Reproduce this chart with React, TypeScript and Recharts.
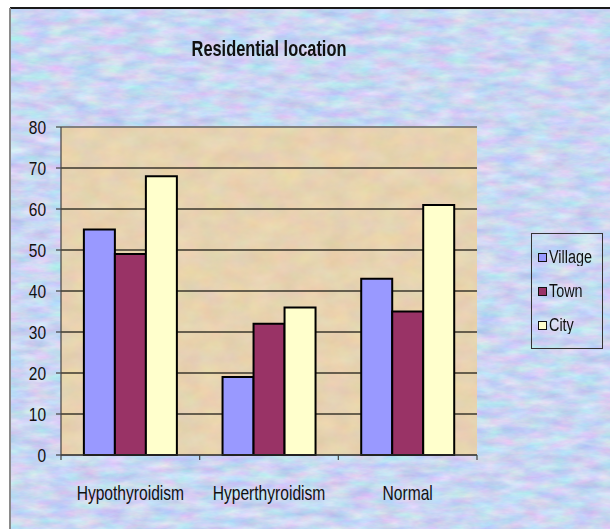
import { Bar, BarChart, CartesianGrid, ReferenceLine, XAxis, YAxis } from 'recharts'

const categories = ['Hypothyroidism', 'Hyperthyroidism', 'Normal']
const village = [55, 19, 43]
const town = [49, 32, 35]
const city = [68, 36, 61]
const yTicks = [0, 10, 20, 30, 40, 50, 60, 70, 80]

const series = [
  { key: 'village', name: 'Village', color: '#9999FF' },
  { key: 'town', name: 'Town', color: '#993366' },
  { key: 'city', name: 'City', color: '#FFFFCC' },
]

const data = categories.map((category, i) => ({
  category,
  village: village[i],
  town: town[i],
  city: city[i],
}))

const WIDTH = 610
const HEIGHT = 529
const MARGIN = { top: 127, right: 133, bottom: 44, left: 21 }
const Y_AXIS_WIDTH = 40
const PLOT_W = WIDTH - MARGIN.left - MARGIN.right - Y_AXIS_WIDTH
const FONT = "'Liberation Sans', Arial, sans-serif"
// Arial Narrow is not available, so text is squeezed horizontally instead
const SQUEEZE = 0.8

/** Category label centred in its band, with tick marks on the band edges. */
function CategoryTick(props: any) {
  const { x, y, payload, index } = props
  const half = PLOT_W / categories.length / 2
  const last = index === categories.length - 1
  return (
    <g>
      <line x1={x - half} x2={x - half} y1={y - 6} y2={y - 1} stroke="#444" strokeWidth={1.2} />
      {last && <line x1={x + half} x2={x + half} y1={y - 6} y2={y - 1} stroke="#444" strokeWidth={1.2} />}
      <text
        transform={`translate(${x},${y + 39}) scale(${SQUEEZE},1.08)`}
        textAnchor="middle"
        fontFamily={FONT}
        fontSize={19.5}
        fill="#111"
      >
        {payload.value}
      </text>
    </g>
  )
}

function ValueTick(props: any) {
  const { x, y, payload } = props
  return (
    <text
      transform={`translate(${x},${y + 6.5}) scale(0.86,1.05)`}
      textAnchor="end"
      fontFamily={FONT}
      fontSize={18}
      fill="#111"
    >
      {payload.value}
    </text>
  )
}

function LegendBox() {
  return (
    <div
      style={{
        position: 'absolute',
        left: 531,
        top: 233,
        border: '1.5px solid #333',
        width: 72,
        height: 116,
        boxSizing: 'border-box',
        display: 'flex',
        flexDirection: 'column',
        justifyContent: 'space-around',
        padding: '6px 0 6px 6px',
        fontFamily: FONT,
        fontSize: 16,
        color: '#111',
      }}
    >
      {series.map((s) => (
        <div key={s.key} style={{ display: 'flex', alignItems: 'center', lineHeight: '18px' }}>
          <span
            style={{
              width: 7,
              height: 7,
              background: s.color,
              border: '1.3px solid #111',
              marginRight: 2,
              display: 'inline-block',
            }}
          />
          <span style={{ display: 'inline-block', transform: 'scale(0.9,1.1)', transformOrigin: 'left center' }}>
            {s.name}
          </span>
        </div>
      ))}
    </div>
  )
}

export default function App() {
  return (
    <div style={{ position: 'absolute', left: 0, top: 0, width: WIDTH, height: HEIGHT, background: '#fff', overflow: 'hidden' }}>
      <svg width={WIDTH} height={HEIGHT} style={{ position: 'absolute', left: 0, top: 0 }}>
        <defs>
          <filter id="pastelNoise" x="0" y="0" width="100%" height="100%" colorInterpolationFilters="sRGB">
            <feTurbulence type="fractalNoise" baseFrequency="0.04 0.11" numOctaves={4} seed={4} />
            <feColorMatrix
              type="matrix"
              values="0.32 0 0 0 0.63  0 0.26 0 0 0.71  0 0 0.12 0 0.89  0 0 0 0 1"
            />
            <feGaussianBlur stdDeviation={0.6} />
          </filter>
          <filter id="paperNoise" x="0" y="0" width="100%" height="100%" colorInterpolationFilters="sRGB">
            <feTurbulence type="fractalNoise" baseFrequency="0.04 0.06" numOctaves={4} seed={9} />
            <feColorMatrix
              type="matrix"
              values="0.09 0 0 0 0.86  0 0.09 0 0 0.78  0 0 0.1 0 0.64  0 0 0 0 1"
            />
          </filter>
          <pattern id="paperFill" patternUnits="userSpaceOnUse" width={WIDTH} height={HEIGHT}>
            <rect width={WIDTH} height={HEIGHT} filter="url(#paperNoise)" />
          </pattern>
        </defs>
        <rect x={10} y={8} width={WIDTH - 10} height={HEIGHT - 8} filter="url(#pastelNoise)" />
        <line x1={10} x2={WIDTH} y1={8} y2={8} stroke="#1a1a1a" strokeWidth={2} />
        <line x1={10} x2={10} y1={8} y2={HEIGHT} stroke="#8a8a8a" strokeWidth={2} />
      </svg>

      <div
        style={{
          position: 'absolute',
          left: MARGIN.left + Y_AXIS_WIDTH,
          width: PLOT_W,
          top: 37,
          textAlign: 'center',
          fontFamily: FONT,
          fontWeight: 'bold',
          fontSize: 20,
          color: '#111',
          transform: `scale(0.82,1.08)`,
        }}
      >
        Residential location
      </div>

      <BarChart
        width={WIDTH}
        height={HEIGHT}
        data={data}
        margin={MARGIN}
        barCategoryGap="16.5%"
        barGap={0}
        style={{ position: 'absolute', left: 0, top: 0 }}
      >
        <CartesianGrid vertical={false} stroke="#3b372c" strokeWidth={1.3} fill="url(#paperFill)" fillOpacity={1} />
        <XAxis
          dataKey="category"
          tickLine={false}
          tickSize={6}
          tickMargin={0}
          axisLine={{ stroke: '#444', strokeWidth: 1.2 }}
          tick={<CategoryTick />}
          interval={0}
          height={30}
        />
        <YAxis
          domain={[0, 80]}
          ticks={yTicks}
          width={Y_AXIS_WIDTH}
          tickSize={5}
          tickMargin={10}
          axisLine={{ stroke: '#444', strokeWidth: 1.2 }}
          tickLine={{ stroke: '#444', strokeWidth: 1.2 }}
          tick={<ValueTick />}
        />
        <YAxis
          yAxisId="frame"
          orientation="right"
          domain={[0, 80]}
          width={0}
          tick={false}
          tickLine={false}
          axisLine={{ stroke: '#8c8c8c', strokeWidth: 1.5 }}
        />
        <ReferenceLine y={80} stroke="#8c8c8c" strokeWidth={1.5} />
        {series.map((s) => (
          <Bar
            key={s.key}
            dataKey={s.key}
            name={s.name}
            fill={s.color}
            stroke="#000"
            strokeWidth={2}
            isAnimationActive={false}
          />
        ))}
      </BarChart>
      <LegendBox />
    </div>
  )
}
